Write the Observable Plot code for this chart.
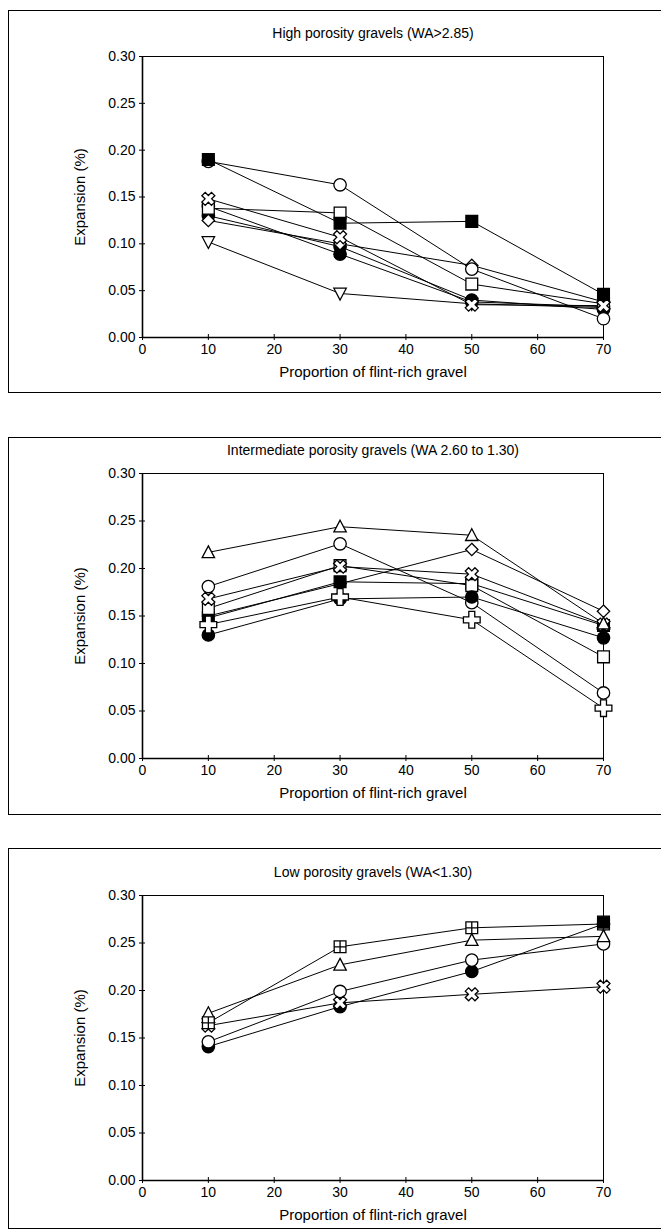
<!DOCTYPE html>
<html><head><meta charset="utf-8">
<script src="https://cdn.jsdelivr.net/npm/d3@7"></script>
<script src="https://cdn.jsdelivr.net/npm/@observablehq/plot@0.6"></script>
<style>
html,body{margin:0;padding:0;background:#fff;}
#page{position:relative;width:661px;height:1232px;overflow:hidden;background:#fff;}
.box{position:absolute;border:1px solid #000;box-sizing:border-box;}
.panel{position:absolute;left:0;}
</style></head><body><div id="page"></div>
<script>
// ---- data ----
const xValues = [10, 30, 50, 70];
const xTicks = [0, 10, 20, 30, 40, 50, 60, 70];
const yTicks = [0, 0.05, 0.10, 0.15, 0.20, 0.25, 0.30];
const xLabel = "Proportion of flint-rich gravel";
const yLabel = "Expansion (%)";
const titles = [
  "High porosity gravels (WA>2.85)",
  "Intermediate porosity gravels (WA 2.60 to 1.30)",
  "Low porosity gravels (WA<1.30)"
];

// High porosity
const hpOpenCircle   = [0.188, 0.163, 0.073, 0.020];
const hpFilledSquare = [0.190, 0.122, 0.124, 0.046];
const hpCross        = [0.148, 0.107, 0.035, 0.034];
const hpOpenSquare   = [0.138, 0.133, 0.057, 0.036];
const hpDiamond      = [0.125, 0.100, 0.077, 0.038];
const hpFilledA      = [0.130, 0.097, 0.040, 0.030];
const hpFilledB      = [0.140, 0.089, 0.038, 0.033];
const hpInvTriangle  = [0.102, 0.047, 0.036, 0.032];

// Intermediate porosity
const ipTriangle     = [0.217, 0.244, 0.235, 0.142];
const ipOpenCircle   = [0.181, 0.226, 0.164, 0.069];
const ipCross        = [0.168, 0.202, 0.194, 0.141];
const ipOpenSquare   = [0.158, 0.203, 0.182, 0.107];
const ipFilledSquare = [0.148, 0.186, 0.184, 0.140];
const ipPlus         = [0.141, 0.170, 0.146, 0.053];
const ipFilledCircle = [0.130, 0.168, 0.170, 0.127];
const ipDiamond      = [0.150, 0.184, 0.220, 0.155];

// Low porosity
const lpSquareCross  = [0.166, 0.246, 0.266, 0.270];
const lpTriangle     = [0.176, 0.227, 0.253, 0.257];
const lpOpenCircle   = [0.146, 0.199, 0.232, 0.249];
const lpFilledCircle = [0.141, 0.183, 0.220, 0.270];
const lpCross        = [0.163, 0.187, 0.196, 0.204];
const lpFilledSquare = [null, null, null, 0.272];

// ---- symbols ----
function sym(fn){ return {draw(c, size){ const h = Math.sqrt(size / Math.PI); fn(c, h); }}; }
function poly(c, pts){ c.moveTo(pts[0][0], pts[0][1]); for (let i = 1; i < pts.length; i++) c.lineTo(pts[i][0], pts[i][1]); c.closePath(); }
function plusPts(a, e){ return [[-a,-e],[a,-e],[a,-a],[e,-a],[e,a],[a,a],[a,e],[-a,e],[-a,a],[-e,a],[-e,-a],[-a,-a]]; }
const R2 = Math.SQRT1_2;
const S = {
  circle: sym((c,h)=>{ c.moveTo(h,0); c.arc(0,0,h,0,2*Math.PI); c.closePath(); }),
  square: sym((c,h)=>{ const s=h*0.95; poly(c,[[-s,-s],[s,-s],[s,s],[-s,s]]); }),
  squareCross: sym((c,h)=>{ const s=h*0.95; poly(c,[[-s,-s],[s,-s],[s,s],[-s,s]]); c.moveTo(0,-s); c.lineTo(0,s); c.moveTo(-s,0); c.lineTo(s,0); }),
  triangle: sym((c,h)=>{ poly(c,[[0,-h*1.05],[h*1.0,h*0.85],[-h*1.0,h*0.85]]); }),
  invTriangle: sym((c,h)=>{ poly(c,[[0,h*1.05],[h*1.0,-h*0.85],[-h*1.0,-h*0.85]]); }),
  diamond: sym((c,h)=>{ const d=h*1.0; poly(c,[[0,-d],[d,0],[0,d],[-d,0]]); }),
  plus: sym((c,h)=>{ poly(c, plusPts(h*0.48, h*1.35)); }),
  cross: sym((c,h)=>{ poly(c, plusPts(h*0.38, h*1.1).map(([x,y])=>[(x-y)*R2,(x+y)*R2])); })
};

const panels = [
  { title: titles[0], top: 10, height: 383, mt: 46, mb: 56, series: [
    {v: hpInvTriangle, s: "invTriangle", f: false},
    {v: hpFilledB, s: "circle", f: true},
    {v: hpFilledA, s: "circle", f: true},
    {v: hpDiamond, s: "diamond", f: false},
    {v: hpOpenSquare, s: "square", f: false},
    {v: hpCross, s: "cross", f: false},
    {v: hpOpenCircle, s: "circle", f: false},
    {v: hpFilledSquare, s: "square", f: true}
  ]},
  { title: titles[1], top: 437, height: 378, mt: 36, mb: 57, series: [
    {v: ipDiamond, s: "diamond", f: false},
    {v: ipFilledSquare, s: "square", f: true},
    {v: ipOpenSquare, s: "square", f: false},
    {v: ipOpenCircle, s: "circle", f: false},
    {v: ipFilledCircle, s: "circle", f: true},
    {v: ipPlus, s: "plus", f: false},
    {v: ipCross, s: "cross", f: false},
    {v: ipTriangle, s: "triangle", f: false}
  ]},
  { title: titles[2], top: 848, height: 381, mt: 47, mb: 49, series: [
    {v: lpFilledCircle, s: "circle", f: true},
    {v: lpOpenCircle, s: "circle", f: false},
    {v: lpCross, s: "cross", f: false},
    {v: lpTriangle, s: "triangle", f: false},
    {v: lpSquareCross, s: "squareCross", f: false},
    {v: lpFilledSquare, s: "square", f: true}
  ]}
];

function rows(vals){ return xValues.map((x,i)=>({x, y: vals[i]})).filter(d => d.y != null); }

const page = document.getElementById("page");
const FONT = "'Liberation Sans', Arial, Helvetica, sans-serif";

for (const p of panels) {
  const box = document.createElement("div");
  box.className = "box";
  box.style.left = "8px"; box.style.top = p.top + "px";
  box.style.width = "700px"; box.style.height = p.height + "px";
  page.appendChild(box);

  const marks = [];
  for (const s of p.series) marks.push(Plot.line(rows(s.v), {x: "x", y: "y", stroke: "black", strokeWidth: 1}));
  for (const s of p.series) marks.push(Plot.dot(rows(s.v), {x: "x", y: "y", r: 6.2, symbol: S[s.s], fill: s.f ? "black" : "white", stroke: "black", strokeWidth: 1.3}));

  const chart = Plot.plot({
    width: 661, height: p.height,
    marginLeft: 142, marginRight: 58, marginTop: p.mt, marginBottom: p.mb,
    x: {domain: [0, 70], axis: null},
    y: {domain: [0, 0.30], axis: null},
    style: {fontFamily: FONT, fontSize: "14px", background: "transparent", color: "black", overflow: "visible"},
    marks: [
      Plot.frame({stroke: "black", strokeWidth: 1}),
      Plot.ruleX([0], {stroke: "black", strokeWidth: 1.6}),
      Plot.ruleY([0], {stroke: "black", strokeWidth: 1.6}),
      Plot.axisY({ticks: yTicks, tickSize: 6, dx: 3, fill: "none", label: null, stroke: "black"}),
      Plot.axisY({ticks: yTicks, tickSize: 0, tickPadding: 7, tickFormat: d3.format(".2f"), label: null, fontSize: 14, fill: "black"}),
      Plot.axisX({ticks: xTicks, tickSize: 6, dy: -3, fill: "none", label: null, stroke: "black"}),
      Plot.axisX({ticks: xTicks, tickSize: 0, tickPadding: 7, label: null, fontSize: 14, fill: "black"}),
      ...marks,
      Plot.text([p.title], {text: d => d, frameAnchor: "top", dy: -23, textAnchor: "middle", lineAnchor: "middle", fontSize: 14, fill: "black"}),
      Plot.text([xLabel], {text: d => d, frameAnchor: "bottom", dy: 35, textAnchor: "middle", lineAnchor: "middle", fontSize: 15, fill: "black"}),
      Plot.text([yLabel], {text: d => d, frameAnchor: "left", dx: -62, rotate: -90, textAnchor: "middle", lineAnchor: "middle", fontSize: 15, fill: "black"})
    ]
  });
  chart.classList.add("panel");
  chart.style.top = p.top + "px";
  page.appendChild(chart);
}
</script></body></html>
